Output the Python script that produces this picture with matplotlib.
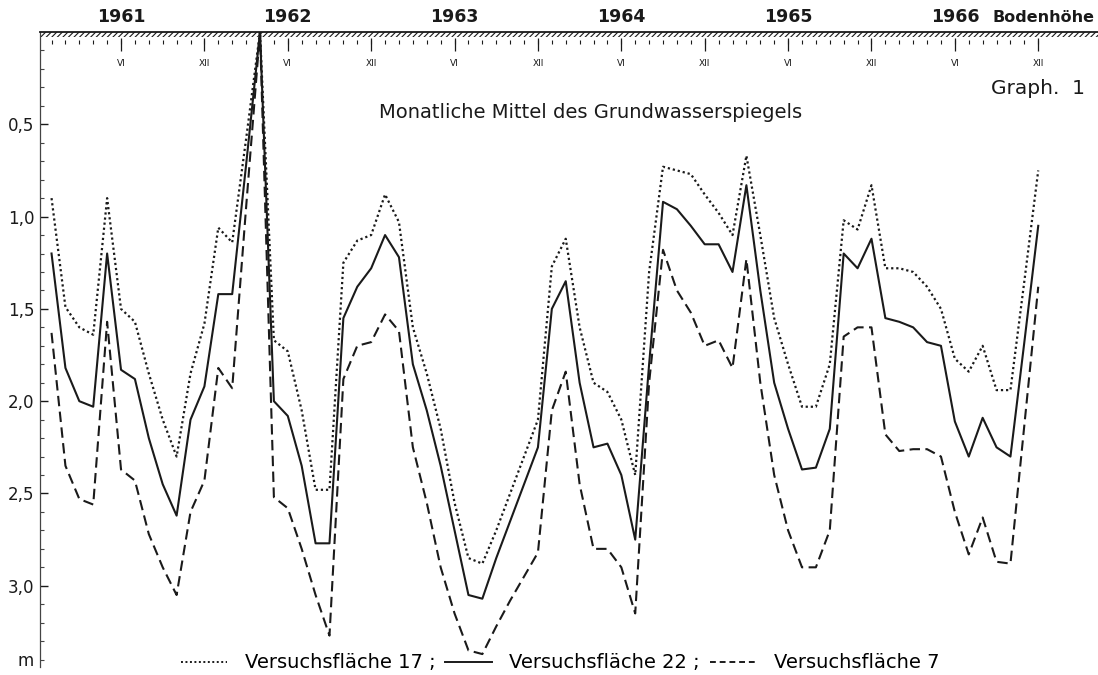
import matplotlib
matplotlib.use('Agg')
from matplotlib import pyplot as plt
from matplotlib.patches import Rectangle
from matplotlib.lines import Line2D
import numpy as np

# monthly means, Jan 1961 .. Dec 1966, depth below ground (m)
years = ['1961', '1962', '1963', '1964', '1965', '1966']
month_labels = ['VI', 'XII']

flaeche_17 = [0.90, 1.49, 1.60, 1.64, 0.90, 1.50, 1.57, 1.85, 2.10, 2.30,
              1.85, 1.58, 1.06, 1.14, 0.58, 0.00, 1.67, 1.73, 2.05, 2.48,
              2.48, 1.25, 1.13, 1.10, 0.88, 1.03, 1.60, 1.85, 2.15, 2.55,
              2.85, 2.88, 2.70, 2.50, 2.30, 2.10, 1.27, 1.12, 1.60, 1.90,
              1.95, 2.10, 2.40, 1.30, 0.73, 0.75, 0.77, 0.88, 0.98, 1.10,
              0.67, 1.10, 1.55, 1.80, 2.03, 2.03, 1.80, 1.02, 1.07, 0.83,
              1.28, 1.28, 1.30, 1.38, 1.50, 1.77, 1.84, 1.70, 1.94, 1.94,
              1.35, 0.75]
flaeche_22 = [1.20, 1.82, 2.00, 2.03, 1.20, 1.83, 1.88, 2.20, 2.45, 2.62,
              2.10, 1.92, 1.42, 1.42, 0.72, 0.00, 2.00, 2.08, 2.35, 2.77,
              2.77, 1.55, 1.38, 1.28, 1.10, 1.22, 1.80, 2.05, 2.35, 2.70,
              3.05, 3.07, 2.85, 2.65, 2.45, 2.25, 1.50, 1.35, 1.90, 2.25,
              2.23, 2.40, 2.75, 1.80, 0.92, 0.96, 1.05, 1.15, 1.15, 1.30,
              0.83, 1.40, 1.90, 2.15, 2.37, 2.36, 2.15, 1.20, 1.28, 1.12,
              1.55, 1.57, 1.60, 1.68, 1.70, 2.11, 2.30, 2.09, 2.25, 2.30,
              1.68, 1.05]
flaeche_7 = [1.63, 2.35, 2.53, 2.56, 1.57, 2.37, 2.43, 2.72, 2.90, 3.05,
             2.60, 2.43, 1.82, 1.93, 0.95, 0.00, 2.52, 2.58, 2.80, 3.05,
             3.27, 1.88, 1.70, 1.68, 1.53, 1.62, 2.25, 2.55, 2.90, 3.15,
             3.35, 3.37, 3.22, 3.08, 2.95, 2.82, 2.05, 1.84, 2.45, 2.80,
             2.80, 2.90, 3.15, 1.90, 1.18, 1.40, 1.52, 1.70, 1.67, 1.82,
             1.23, 1.90, 2.40, 2.70, 2.90, 2.90, 2.70, 1.65, 1.60, 1.60,
             2.18, 2.27, 2.26, 2.26, 2.30, 2.60, 2.83, 2.63, 2.87, 2.88,
             2.13, 1.38]

INK = '#1a1a1a'
W, H = 1098, 675
LEFT, TOP, RIGHT, BOTTOM = 40, 32, 1098, 667

months = np.arange(len(flaeche_22))

fig = plt.figure(figsize=(W / 100, H / 100), dpi=100)
fig.patch.set_facecolor('white')
ax = fig.add_axes([LEFT / W, 1 - BOTTOM / H, (RIGHT - LEFT) / W, (BOTTOM - TOP) / H])

ax.plot(months, flaeche_17, color=INK, lw=1.6, linestyle=(0, (1, 1.3)))
ax.plot(months, flaeche_22, color=INK, lw=1.5, linestyle='-')
ax.plot(months, flaeche_7, color=INK, lw=1.5, linestyle=(0, (5, 2.6)))

ax.set_xlim(-0.83, 75.3)
ax.set_ylim(3.44, 0)

for s in ['right', 'bottom']:
    ax.spines[s].set_visible(False)
ax.spines['top'].set_linewidth(1.3)
ax.spines['top'].set_color(INK)
ax.spines['left'].set_linewidth(0.9)
ax.spines['left'].set_color('#444444')

# ground hatch under the surface line
plt.rcParams['hatch.linewidth'] = 0.8
ax.add_patch(Rectangle((0, 1 - 5 / 635), 1, 5 / 635, transform=ax.transAxes,
                       fill=False, hatch='//////', lw=0, edgecolor=INK, clip_on=False))

# y axis
ax.set_yticks([0.5, 1.0, 1.5, 2.0, 2.5, 3.0])
ax.set_yticklabels(['0,5', '1,0', '1,5', '2,0', '2,5', '3,0'])
ax.set_yticks(np.arange(0.1, 3.45, 0.1), minor=True)
ax.tick_params(axis='y', which='major', direction='in', length=6, width=1,
               labelsize=12, pad=4, colors=INK)
ax.tick_params(axis='y', which='minor', direction='in', length=3, width=0.8, colors='#444444')
ax.set_xticks([])
ax.text(-0.006, 3.41, 'm', transform=ax.get_yaxis_transform(), ha='right',
        va='center', fontsize=12, color=INK)

# month ticks along the top
def ay(py):
    return 1 - (py - TOP) / (BOTTOM - TOP)

tr = ax.get_xaxis_transform()
ax.vlines(months, ay(44), ay(39.5), transform=tr, color=INK, lw=0.8)
big = months[(months % 6) == 5]
ax.vlines(big, ay(51), ay(38), transform=tr, color=INK, lw=0.9)
for m in big:
    ax.text(m, ay(63), month_labels[(m // 6) % 2], transform=tr, ha='center',
            va='center', fontsize=6.5, color=INK)

for i, y in enumerate(years):
    ax.text(5 + 12 * i, ay(17), y, transform=tr, ha='center', va='center',
            fontsize=12.5, fontweight='bold', color=INK)
fig.text(1094 / W, 1 - 18 / H, 'Bodenhöhe', ha='right', va='center',
         fontsize=11.5, fontweight='bold', color=INK)

fig.text(1085 / W, 1 - 88 / H, 'Graph.  1', ha='right', va='center',
         fontsize=14.5, color=INK)
fig.text(591 / W, 1 - 113 / H, 'Monatliche Mittel des Grundwasserspiegels',
         ha='center', va='center', fontsize=14, color=INK)

handles = [Line2D([], [], color=INK, lw=1.4, linestyle=(0, (1, 1.3))),
           Line2D([], [], color=INK, lw=1.4, linestyle='-'),
           Line2D([], [], color=INK, lw=1.4, linestyle=(0, (3, 2)))]
labels = ['Versuchsfläche 17 ;', 'Versuchsfläche 22 ;', 'Versuchsfläche 7']
fig.legend(handles, labels, loc='center', bbox_to_anchor=(560 / W, 1 - 663 / H),
           ncol=3, frameon=False, fontsize=14, handlelength=2.4,
           handletextpad=0.9, columnspacing=0.5)

fig.savefig('out.png', dpi=100, facecolor='white')
